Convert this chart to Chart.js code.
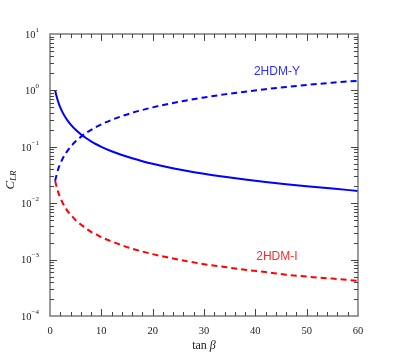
<!DOCTYPE html>
<html>
<head>
<meta charset="utf-8">
<script src="https://cdn.jsdelivr.net/npm/chart.js@4.4.1/dist/chart.umd.min.js"></script>
<style>
html,body{margin:0;padding:0;background:#fff;}
#wrap{width:399px;height:352px;}
</style>
</head>
<body>
<div id="wrap"><canvas id="c" width="399" height="352"></canvas></div>
<script>
// ---- data ----
const tanBeta = [1, 1.25, 1.5, 1.75, 2, 2.5, 3, 3.5, 4, 5, 6, 7, 8, 9, 10, 12, 14, 16, 18, 20, 23, 26, 30, 34, 38, 42, 46, 50, 55, 60];
const cLR_solidY = [1.0, 0.80, 0.667, 0.571, 0.5, 0.4, 0.333, 0.286, 0.25, 0.2, 0.167, 0.143, 0.125, 0.111, 0.1, 0.0833, 0.0714, 0.0625, 0.0556, 0.05, 0.0435, 0.0385, 0.0333, 0.0294, 0.0263, 0.0238, 0.0217, 0.02, 0.0182, 0.0165];
const cLR_dashY  = [0.025, 0.031, 0.0375, 0.044, 0.05, 0.0625, 0.075, 0.0875, 0.1, 0.125, 0.15, 0.175, 0.2, 0.225, 0.25, 0.3, 0.35, 0.4, 0.45, 0.5, 0.575, 0.65, 0.75, 0.85, 0.95, 1.05, 1.15, 1.25, 1.37, 1.48];
const cLR_dashI  = [0.025, 0.02, 0.0167, 0.0143, 0.0125, 0.01, 0.0083, 0.0071, 0.0063, 0.005, 0.0042, 0.0036, 0.0031, 0.0028, 0.0025, 0.0021, 0.0018, 0.00156, 0.00139, 0.00125, 0.00109, 0.00096, 0.00083, 0.00074, 0.00066, 0.0006, 0.00054, 0.0005, 0.00046, 0.00042];
const xTickValues = [0, 10, 20, 30, 40, 50, 60];
const xTickLabels = ['0', '10', '20', '30', '40', '50', '60'];
const yTickValues = [1e-4, 1e-3, 1e-2, 1e-1, 1, 10];
const yTickExponents = ['−4', '−3', '−2', '−1', '0', '1'];
const annotations = [
  {text: '2HDM-Y', x: 44.2, y: 2.17, color: '#2f2fff'},
  {text: '2HDM-I', x: 44.2, y: 0.00113, color: '#ff2a2a'}
];

const pts = ys => tanBeta.map((x, i) => ({x: x, y: ys[i]}));

const framePlugin = {
  id: 'frame',
  afterDraw(chart) {
    const ctx = chart.ctx;
    const a = chart.chartArea;
    const xs = chart.scales.x, ys = chart.scales.y;
    ctx.save();
    // frame
    ctx.strokeStyle = '#7a7a7a';
    ctx.lineWidth = 1.5;
    ctx.strokeRect(a.left, a.top, a.right - a.left, a.bottom - a.top);
    // ticks
    ctx.strokeStyle = '#444';
    ctx.lineWidth = 1;
    ctx.beginPath();
    for (let v = 0; v <= 60; v += 2) {
      const px = Math.round(xs.getPixelForValue(v)) + 0.5;
      const L = (v % 10 === 0) ? 7 : 4;
      if (v === 0 || v === 60) continue;
      ctx.moveTo(px, a.bottom); ctx.lineTo(px, a.bottom - L);
      ctx.moveTo(px, a.top); ctx.lineTo(px, a.top + L);
    }
    for (let e = -4; e <= 0; e++) {
      for (let m = 1; m <= 9; m++) {
        const v = m * Math.pow(10, e);
        const py = Math.round(ys.getPixelForValue(v)) + 0.5;
        const L = (m === 1) ? 7 : 4;
        if (e === -4 && m === 1) continue;
        ctx.moveTo(a.left, py); ctx.lineTo(a.left + L, py);
        ctx.moveTo(a.right, py); ctx.lineTo(a.right - L, py);
      }
    }
    ctx.stroke();

    // y tick labels 10^n
    ctx.fillStyle = '#222';
    ctx.textBaseline = 'middle';
    yTickValues.forEach((v, i) => {
      const py = ys.getPixelForValue(v);
      const exp = yTickExponents[i];
      ctx.font = '7px "Liberation Serif", serif';
      const ew = ctx.measureText(exp).width;
      const right = a.left - 11;
      ctx.textAlign = 'left';
      ctx.fillText(exp, right - ew, py - 4);
      ctx.font = '10.5px "Liberation Serif", serif';
      ctx.textAlign = 'right';
      ctx.fillText('10', right - ew, py + 1);
    });
    // x tick labels
    ctx.font = '10.5px "Liberation Serif", serif';
    ctx.textAlign = 'center';
    xTickValues.forEach((v, i) => {
      ctx.fillText(xTickLabels[i], xs.getPixelForValue(v), a.bottom + 15);
    });

    // x title: tan β
    const cx = (a.left + a.right) / 2;
    ctx.font = '12px "Liberation Serif", serif';
    const w1 = ctx.measureText('tan ').width;
    ctx.font = 'italic 12px "Liberation Serif", serif';
    const w2 = ctx.measureText('β').width;
    const sx = cx - (w1 + w2) / 2;
    ctx.textAlign = 'left';
    ctx.font = '12px "Liberation Serif", serif';
    ctx.fillText('tan ', sx, a.bottom + 30);
    ctx.font = 'italic 12px "Liberation Serif", serif';
    ctx.fillText('β', sx + w1, a.bottom + 30);

    // y title: C_LR (rotated)
    ctx.save();
    ctx.translate(11, (a.top + a.bottom) / 2 + 5);
    ctx.rotate(-Math.PI / 2);
    ctx.font = 'italic 13px "Liberation Serif", serif';
    const cw = ctx.measureText('C').width;
    ctx.font = 'italic 9px "Liberation Serif", serif';
    const lw = ctx.measureText('LR').width;
    const s0 = -(cw + lw) / 2;
    ctx.font = 'italic 13px "Liberation Serif", serif';
    ctx.fillText('C', s0, 0);
    ctx.font = 'italic 9px "Liberation Serif", serif';
    ctx.fillText('LR', s0 + cw, 3);
    ctx.restore();

    // annotations
    ctx.font = '12px "Liberation Sans", Arial, sans-serif';
    ctx.textAlign = 'center';
    annotations.forEach(an => {
      ctx.fillStyle = an.color;
      ctx.fillText(an.text, xs.getPixelForValue(an.x), ys.getPixelForValue(an.y));
    });
    ctx.restore();
  }
};

new Chart(document.getElementById('c'), {
  type: 'line',
  data: {
    datasets: [
      {label: '2HDM-Y (solid)', data: pts(cLR_solidY), borderColor: '#0000ff', borderWidth: 2, pointRadius: 0, cubicInterpolationMode: 'monotone', fill: false},
      {label: '2HDM-Y (dashed)', data: pts(cLR_dashY), borderColor: '#0000ff', borderWidth: 2, borderDash: [6, 4], pointRadius: 0, cubicInterpolationMode: 'monotone', fill: false},
      {label: '2HDM-I', data: pts(cLR_dashI), borderColor: '#ff0000', borderWidth: 2, borderDash: [6, 4], pointRadius: 0, cubicInterpolationMode: 'monotone', fill: false}
    ]
  },
  options: {
    responsive: false,
    animation: false,
    devicePixelRatio: 1,
    layout: {padding: {top: 34, right: 41, left: 0, bottom: 0}},
    plugins: {legend: {display: false}, tooltip: {enabled: false}},
    scales: {
      x: {
        type: 'linear', min: 0, max: 60,
        grid: {display: false, drawTicks: false},
        border: {display: false},
        ticks: {display: false},
        afterFit(s) { s.height = 36; }
      },
      y: {
        type: 'logarithmic', min: 1e-4, max: 10,
        grid: {display: false, drawTicks: false},
        border: {display: false},
        ticks: {display: false},
        afterFit(s) { s.width = 50; }
      }
    }
  },
  plugins: [framePlugin]
});
</script>
</body>
</html>
